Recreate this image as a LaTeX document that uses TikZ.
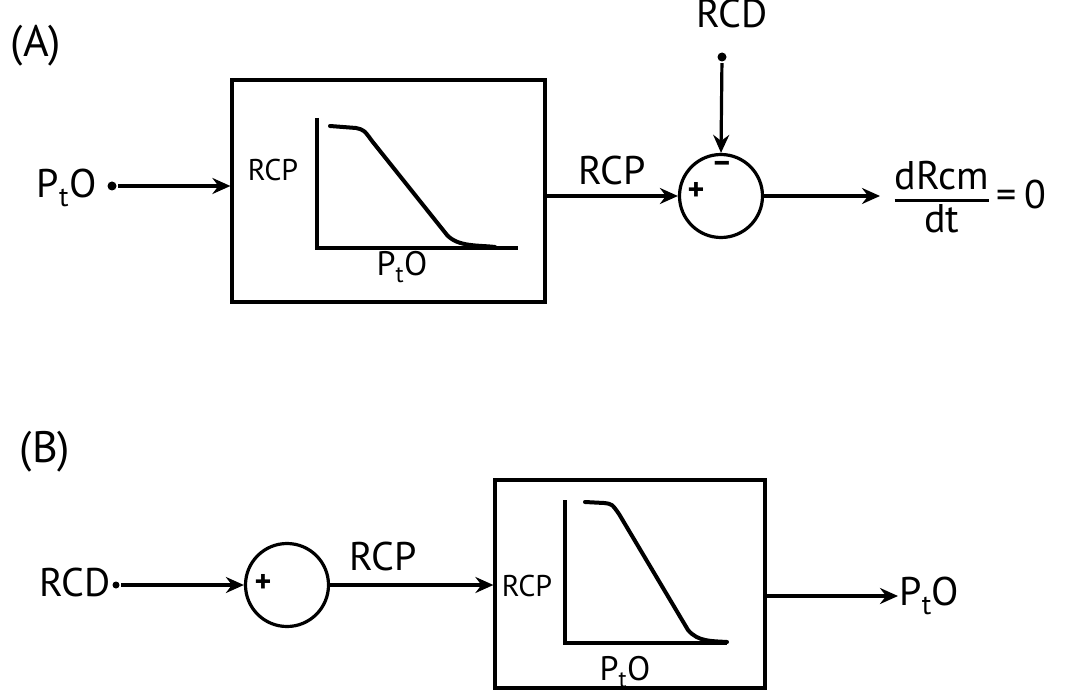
\documentclass[tikz,border=0pt]{standalone}
\usepackage{fontspec}
\setmainfont{PT Sans}
\usetikzlibrary{arrows.meta}
\setlength{\arrayrulewidth}{2.6pt}
\begin{document}
\begin{tikzpicture}[x=1pt,y=-1pt, line width=3.2pt,
  arr/.style={-{Stealth[length=18pt,width=16pt,inset=6pt]}},
  lbl/.style={font=\fontsize{40}{44}\selectfont, inner sep=0pt},
  inlbl/.style={font=\fontsize{30}{34}\selectfont, inner sep=0pt},
  axlbl/.style={font=\fontsize{34}{38}\selectfont, inner sep=0pt},
  sign/.style={font=\fontsize{32}{36}\selectfont\bfseries, inner sep=0pt},
  blk/.style={draw, rectangle, inner sep=0pt},
  sumj/.style={draw, circle, minimum size=83pt, inner sep=0pt},
  dotc/.style={circle, fill, inner sep=0pt, minimum size=9pt},
  curvel/.style={line width=4pt, line join=round, line cap=round}]
\useasboundingbox (0,0) rectangle (1076,695);

% ---------------- (A) ----------------
\node[lbl, font=\fontsize{44}{48}\selectfont] (labA) at (36,46) {(A)};

\node[lbl, anchor=east] (ptoA) at (98,188) {P\textsubscript{t}O};
\node[dotc] (dotA) at (112,186) {};

\node[blk, minimum width=313pt, minimum height=222pt] (boxA) at (388.5,191) {};
\node[inlbl] (rcpA) at (273,170) {RCP};
\draw (317,118) -- (317,248) -- (518,248);
\draw[curvel] (330,126) -- (356,128) .. controls (364,130) .. (372,141) -- (447,235) .. controls (458,247) and (478,245) .. (495,247);
\node[axlbl] (ptoAx) at (402,267) {P\textsubscript{t}O};

\node[sumj] (sumA) at (721,196) {};
\node[sign] (plusA) at (696,191) {+};
\node[sign] (minusA) at (722,167) {–};

\node[lbl] (rcdA) at (732,14) {RCD};
\node[dotc] (dotR) at (722,57) {};

\node[lbl] (rcpArr) at (612,171) {RCP};

\node[lbl, anchor=west] (outA) at (893,202)
  {\begin{tabular}{@{}c@{}}dRcm\\[-3pt]\hline dt\end{tabular}\hspace{8pt}=\hspace{8pt}0};

\draw[arr] (dotA) -- (dotA -| boxA.west);
\draw[arr] (boxA.east |- sumA.west) -- (sumA.west);
\draw[arr] (dotR) -- (sumA.north);
\draw[arr] (sumA.east) -- (880,196);

% ---------------- (B) ----------------
\node[lbl, font=\fontsize{44}{48}\selectfont] (labB) at (45,452) {(B)};

\node[lbl, anchor=east] (rcdB) at (112,582) {RCD};
\node[dotc, minimum size=7pt] (dotB) at (116,585) {};

\node[sumj] (sumB) at (287,585) {};
\node[sign] (plusB) at (263,583) {+};

\node[lbl] (rcpB) at (383,556) {RCP};

\node[blk, minimum width=270pt, minimum height=208pt] (boxB) at (630,584) {};
\node[inlbl] (rcpBin) at (527,586) {RCP};
\draw (565,500) -- (565,643) -- (727,643);
\draw[curvel] (585,502) -- (604,503) .. controls (612,504) .. (619,514) -- (688,630) .. controls (698,642) and (712,641) .. (727,642);
\node[axlbl] (ptoBx) at (625,672) {P\textsubscript{t}O};

\node[lbl, anchor=west] (ptoB) at (898,596) {P\textsubscript{t}O};

\draw[arr] (dotB) -- (sumB.west);
\draw[arr] (sumB.east) -- (sumB.east -| boxB.west);
\draw[arr] (boxB.east |- ptoB.west) -- (ptoB.west);
\end{tikzpicture}
\end{document}
